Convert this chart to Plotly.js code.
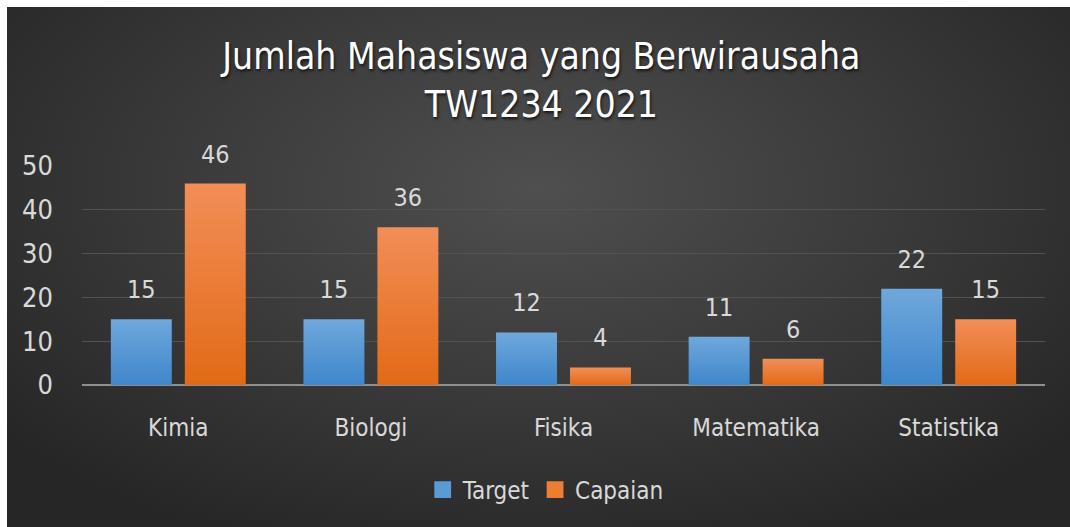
<!DOCTYPE html>
<html>
<head>
<meta charset="utf-8">
<script src="https://cdn.plot.ly/plotly-3.0.1.min.js"></script>
<style>
  html, body { margin: 0; padding: 0; background: #ffffff; }
  #bg { position: absolute; left: 7px; top: 7px; width: 1063px; height: 520px;
        background: radial-gradient(ellipse 65% 75% at 50% 35%, #4f4f4f 0%, #3b3b3b 50%, #262626 100%); }
  #chart { position: absolute; left: 0; top: 0; width: 1070px; height: 527px; }
</style>
</head>
<body>
<div id="bg"></div>
<div id="chart"></div>
<script>
const categories = ["Kimia", "Biologi", "Fisika", "Matematika", "Statistika"];
const targetValues = [15, 15, 12, 11, 22];
const capaianValues = [46, 36, 4, 6, 15];
const seriesNames = ["Target", "Capaian"];
const yTicks = [0, 10, 20, 30, 40, 50];

const FONT = '"Liberation Sans Narrow", "DejaVu Sans Condensed", "Noto Sans", sans-serif';
const TXT = '#d9d9d9';

const traces = [
  { type: 'bar', name: seriesNames[0], x: categories, y: targetValues,
    marker: { color: '#5b9bd5' }, text: targetValues.map(String), textposition: 'outside',
    textfont: { family: FONT, size: 25, color: TXT }, cliponaxis: false, hoverinfo: 'none' },
  { type: 'bar', name: seriesNames[1], x: categories, y: capaianValues,
    marker: { color: '#ed7d31' }, text: capaianValues.map(String), textposition: 'outside',
    textfont: { family: FONT, size: 25, color: TXT }, cliponaxis: false, hoverinfo: 'none' }
];

const layout = {
  width: 1070, height: 527,
  paper_bgcolor: 'rgba(0,0,0,0)', plot_bgcolor: 'rgba(0,0,0,0)',
  margin: { l: 82, r: 25, t: 166, b: 142 },
  font: { family: FONT, color: TXT },
  title: { text: 'Jumlah Mahasiswa yang Berwirausaha<br>TW1234 2021',
    font: { family: FONT, size: 37, color: '#ffffff', shadow: '1px 2px 3px rgba(0,0,0,0.7)' },
    x: 0.506, xanchor: 'center', xref: 'container', yref: 'container', y: 0.869, yanchor: 'middle' },
  barmode: 'group', bargap: 0.232, bargroupgap: 0.176,
  showlegend: true,
  legend: { orientation: 'h', x: 0.51, xanchor: 'center', xref: 'container', yref: 'container', y: 0.07, yanchor: 'middle',
    font: { family: FONT, size: 24, color: TXT }, bgcolor: 'rgba(0,0,0,0)', tracegroupgap: 0 },
  xaxis: { type: 'category', showgrid: false, zeroline: false, showline: false, ticks: '',
    tickfont: { family: FONT, size: 24, color: TXT }, ticklabelstandoff: 26, fixedrange: true },
  yaxis: { range: [0, 50], tickvals: yTicks, ticktext: yTicks.map(String), showgrid: true,
    gridcolor: '#525252', gridwidth: 1, zeroline: true, zerolinecolor: '#8f8f8f', zerolinewidth: 2,
    showline: false, ticks: '', tickfont: { family: FONT, size: 27, color: TXT },
    ticklabelstandoff: 28, fixedrange: true }
};

Plotly.newPlot('chart', traces, layout, { staticPlot: true, displayModeBar: false }).then(function (gd) {
  const svg = gd.querySelector('svg.main-svg');
  const ns = 'http://www.w3.org/2000/svg';
  let defs = svg.querySelector('defs');
  if (!defs) { defs = document.createElementNS(ns, 'defs'); svg.insertBefore(defs, svg.firstChild); }
  const grads = { gBlue: ['#6fa8dc', '#3f86cb'], gOrange: ['#f28e58', '#e26a16'] };
  Object.keys(grads).forEach(function (id) {
    const lg = document.createElementNS(ns, 'linearGradient');
    lg.setAttribute('id', id); lg.setAttribute('x1', '0'); lg.setAttribute('y1', '0');
    lg.setAttribute('x2', '0'); lg.setAttribute('y2', '1');
    [[0, grads[id][0]], [1, grads[id][1]]].forEach(function (s) {
      const st = document.createElementNS(ns, 'stop');
      st.setAttribute('offset', s[0]); st.setAttribute('stop-color', s[1]);
      lg.appendChild(st);
    });
    defs.appendChild(lg);
  });
  gd.querySelectorAll('.barlayer .trace').forEach(function (tg, i) {
    tg.querySelectorAll('path').forEach(function (p) {
      p.style.fill = i === 0 ? 'url(#gBlue)' : 'url(#gOrange)';
    });
    tg.querySelectorAll('text.bartext').forEach(function (t) {
      const tr = t.getAttribute('transform') || '';
      t.setAttribute('transform', 'translate(0,-12) ' + tr);
    });
  });
  gd.querySelectorAll('.legend .legendpoints path').forEach(function (p) {
    const tr = p.getAttribute('transform') || '';
    p.setAttribute('transform', tr + ' scale(1.4)');
  });
});
</script>
</body>
</html>
